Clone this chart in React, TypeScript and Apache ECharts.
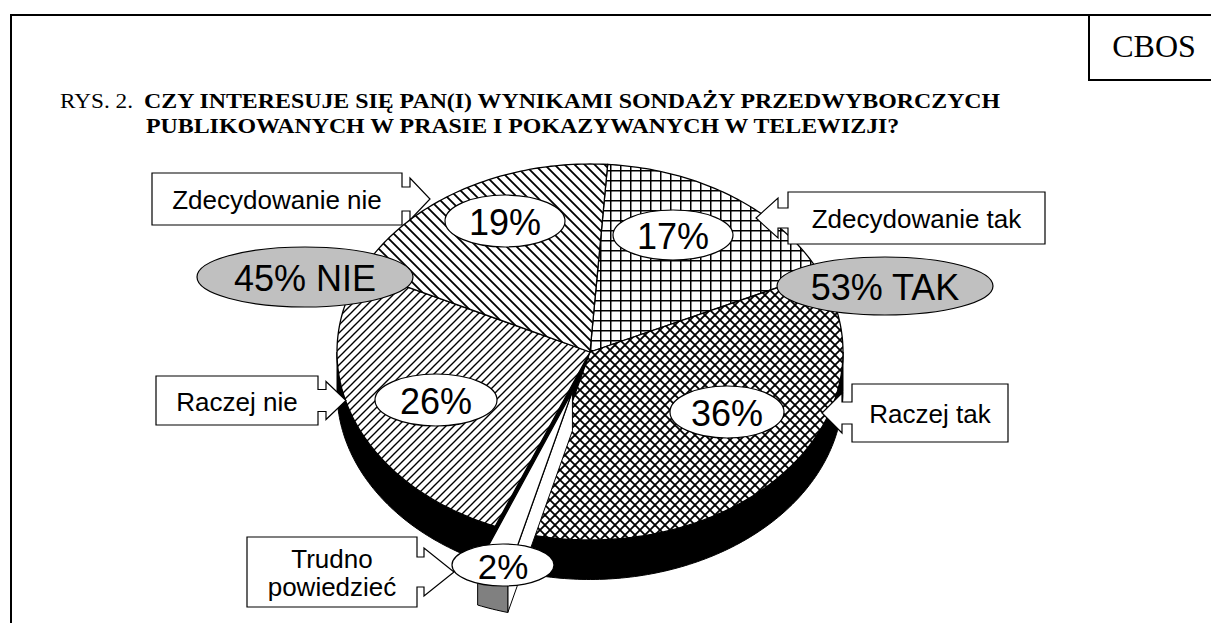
import React, { useEffect, useRef } from 'react';
import * as echarts from 'echarts';

// ---------- data ----------
const CATEGORIES = ['Zdecydowanie tak', 'Raczej tak', 'Trudno powiedzieć', 'Raczej nie', 'Zdecydowanie nie'];
const VALUES = [17, 36, 2, 26, 19];
const BOX_TEXTS = ['Zdecydowanie tak', 'Raczej tak', 'Trudno\npowiedzieć', 'Raczej nie', 'Zdecydowanie nie'];
const TAK_GROUP = [0, 1];
const NIE_GROUP = [3, 4];
const TAK_LABEL = 'TAK';
const NIE_LABEL = 'NIE';
const TITLE_PREFIX = 'RYS. 2.';
const TITLE_LINE1 = 'CZY INTERESUJE SIĘ PAN(I) WYNIKAMI SONDAŻY PRZEDWYBORCZYCH';
const TITLE_LINE2 = 'PUBLIKOWANYCH W PRASIE I POKAZYWANYCH W TELEWIZJI?';
const SOURCE = 'CBOS';

// ---------- layout / style ----------
const START_DEG = 4;
const DEPTH = 0.21;
const EXPLODE_INDEX = 2;
const EXPLODE = 0.22;
const PIE_RECT = { left: 337, top: 164, width: 506, height: 376 };
const SANS = '"Liberation Sans", Arial, sans-serif';
const SERIF = '"Liberation Serif", "Times New Roman", serif';

const CALLOUTS = [
  { x0: 788, y0: 192, x1: 1045, y1: 244, side: 'left', sh: 10, hh: 20, sl: 10, hl: 22 },
  { x0: 852, y0: 384, x1: 1008, y1: 442, side: 'left', sh: 11, hh: 20, sl: 10, hl: 20 },
  { x0: 247, y0: 537, x1: 417, y1: 607, side: 'right', sh: 15, hh: 24, sl: 7, hl: 30 },
  { x0: 156, y0: 376, x1: 318, y1: 425, side: 'right', sh: 11, hh: 19, sl: 8, hl: 20 },
  { x0: 152, y0: 173, x1: 402, y1: 225, side: 'right', sh: 12, hh: 21, sl: 8, hl: 20 },
];
const PCT_BUBBLES = [
  { cx: 673, cy: 235, rx: 60, ry: 25, fs: 36 },
  { cx: 727, cy: 412, rx: 57, ry: 26, fs: 36 },
  { cx: 503, cy: 565, rx: 51, ry: 21, fs: 35 },
  { cx: 436, cy: 400, rx: 61, ry: 26, fs: 36 },
  { cx: 505, cy: 221, rx: 60, ry: 26, fs: 36 },
];
const TAK_BUBBLE = { cx: 885, cy: 286, rx: 108, ry: 29 };
const NIE_BUBBLE = { cx: 305, cy: 277, rx: 108, ry: 30 };

const svgUrl = (w: number, h: number, body: string) =>
  'data:image/svg+xml;charset=utf-8,' +
  encodeURIComponent(
    `<svg xmlns="http://www.w3.org/2000/svg" width="${w}" height="${h}"><rect width="${w}" height="${h}" fill="#fff"/>${body}</svg>`
  );
const pattern = (w: number, h: number, body: string) => ({
  image: svgUrl(w, h, body),
  repeat: 'repeat',
  imageWidth: w,
  imageHeight: h,
});

const FILLS: any[] = [
  pattern(10, 10, '<path d="M0 0.75H10M0.75 0V10" stroke="#000" stroke-width="1.5" fill="none"/>'),
  pattern(10, 10, '<path d="M-1 -1L11 11M-6 4L6 16M4 -6L16 6M-1 11L11 -1M-6 6L6 -6M4 16L16 4" stroke="#000" stroke-width="1.8" fill="none"/>'),
  '#ffffff',
  pattern(8, 8, '<path d="M-1 9L9 -1M-5 5L5 -5M3 13L13 3" stroke="#000" stroke-width="1.4" fill="none"/>'),
  pattern(10, 10, '<path d="M-1 -1L11 11M-6 4L6 16M4 -6L16 6" stroke="#000" stroke-width="1.8" fill="none"/>'),
];

const rad = (d: number) => (d * Math.PI) / 180;

function fitScale(text: string, font: string, target: number) {
  try {
    const ctx = document.createElement('canvas').getContext('2d');
    if (!ctx) return 1;
    ctx.font = font;
    const w = ctx.measureText(text).width;
    return w > 0 ? target / w : 1;
  } catch (e) {
    return 1;
  }
}

function calloutPoints(c: any) {
  const ym = (c.y0 + c.y1) / 2;
  if (c.side === 'right') {
    const s = c.x1 + c.sl;
    return [
      [c.x0, c.y0], [c.x1, c.y0], [c.x1, ym - c.sh], [s, ym - c.sh], [s, ym - c.hh],
      [s + c.hl, ym], [s, ym + c.hh], [s, ym + c.sh], [c.x1, ym + c.sh], [c.x1, c.y1], [c.x0, c.y1],
    ];
  }
  const s = c.x0 - c.sl;
  return [
    [c.x1, c.y0], [c.x0, c.y0], [c.x0, ym - c.sh], [s, ym - c.sh], [s, ym - c.hh],
    [s - c.hl, ym], [s, ym + c.hh], [s, ym + c.sh], [c.x0, ym + c.sh], [c.x0, c.y1], [c.x1, c.y1],
  ];
}

export default function App() {
  const ref = useRef<HTMLDivElement>(null);

  useEffect(() => {
    if (!ref.current) return;
    const chart = echarts.init(ref.current, null, { renderer: 'svg' });

    const total = VALUES.reduce((a, b) => a + b, 0);
    const angles: number[][] = [];
    let acc = START_DEG;
    VALUES.forEach((v) => {
      const a0 = acc;
      acc += (v / total) * 360;
      angles.push([a0, acc]);
    });

    const renderItem = (params: any, api: any) => {
      const i = params.dataIndex;
      const [a0, a1] = angles[i];
      const mid = (a0 + a1) / 2;
      const ex = i === EXPLODE_INDEX ? EXPLODE : 0;
      const ox = ex * Math.sin(rad(mid));
      const oy = ex * Math.cos(rad(mid));
      const pt = (deg: number, r: number, dz: number) =>
        api.coord([ox + r * Math.sin(rad(deg)), oy + r * Math.cos(rad(deg)) - dz]);
      const arc = (from: number, to: number, dz: number) => {
        const pts: number[][] = [];
        const n = Math.max(2, Math.ceil(Math.abs(to - from)));
        for (let k = 0; k <= n; k++) pts.push(pt(from + ((to - from) * k) / n, 1, dz));
        return pts;
      };
      const zb = ex ? 3 : 0;
      const sideColor = ex ? '#808080' : '#000000';
      const faceColor = ex ? '#ffffff' : '#000000';
      const children: any[] = [];
      if (Math.sin(rad(a0)) < 0) {
        children.push({
          type: 'polygon', z2: zb,
          shape: { points: [pt(a0, 0, 0), pt(a0, 1, 0), pt(a0, 1, DEPTH), pt(a0, 0, DEPTH)] },
          style: { fill: faceColor, stroke: '#000', lineWidth: 1 },
        });
      }
      if (Math.sin(rad(a1)) > 0) {
        children.push({
          type: 'polygon', z2: zb,
          shape: { points: [pt(a1, 0, 0), pt(a1, 1, 0), pt(a1, 1, DEPTH), pt(a1, 0, DEPTH)] },
          style: { fill: faceColor, stroke: '#000', lineWidth: 1 },
        });
      }
      [[90, 270], [450, 630]].forEach(([f0, f1]) => {
        const s = Math.max(a0, f0);
        const e = Math.min(a1, f1);
        if (e > s) {
          const top = arc(s, e, 0);
          const bot = arc(e, s, DEPTH);
          children.push({
            type: 'polygon', z2: zb + 1,
            shape: { points: top.concat(bot) },
            style: { fill: sideColor, stroke: '#000', lineWidth: 1 },
          });
        }
      });
      children.push({
        type: 'polygon', z2: zb + 2,
        shape: { points: [pt(a0, 0, 0)].concat(arc(a0, a1, 0)) },
        style: { fill: FILLS[i], stroke: '#000', lineWidth: 1.3 },
      });
      return { type: 'group', children };
    };

    const g: any[] = [];
    // frame
    g.push({ type: 'line', z: 10, shape: { x1: 10, y1: 15, x2: 1215, y2: 15 }, style: { stroke: '#000', lineWidth: 2 } });
    g.push({ type: 'line', z: 10, shape: { x1: 11, y1: 14, x2: 11, y2: 630 }, style: { stroke: '#000', lineWidth: 2 } });
    g.push({ type: 'rect', z: 10, shape: { x: 1089, y: 15, width: 130, height: 65 }, style: { fill: 'none', stroke: '#000', lineWidth: 2 } });
    g.push({
      type: 'text', z: 11, x: 1154, y: 46,
      style: { text: SOURCE, fontSize: 32, fontFamily: SERIF, fill: '#000', align: 'center', verticalAlign: 'middle', textAlign: 'center', textVerticalAlign: 'middle' },
    });
    // title
    const TFS = 22;
    const regFont = `${TFS}px ${SERIF}`;
    const boldFont = `bold ${TFS}px ${SERIF}`;
    g.push({
      type: 'text', z: 11, x: 60, y: 101, scaleX: fitScale(TITLE_PREFIX, regFont, 73),
      style: { text: TITLE_PREFIX, fontSize: TFS, fontFamily: SERIF, fill: '#000', align: 'left', verticalAlign: 'middle', textAlign: 'left', textVerticalAlign: 'middle' },
    });
    g.push({
      type: 'text', z: 11, x: 144, y: 101, scaleX: fitScale(TITLE_LINE1, boldFont, 859),
      style: { text: TITLE_LINE1, fontSize: TFS, fontWeight: 'bold', fontFamily: SERIF, fill: '#000', align: 'left', verticalAlign: 'middle', textAlign: 'left', textVerticalAlign: 'middle' },
    });
    g.push({
      type: 'text', z: 11, x: 146, y: 126, scaleX: fitScale(TITLE_LINE2, boldFont, 756),
      style: { text: TITLE_LINE2, fontSize: TFS, fontWeight: 'bold', fontFamily: SERIF, fill: '#000', align: 'left', verticalAlign: 'middle', textAlign: 'left', textVerticalAlign: 'middle' },
    });
    // callouts
    CALLOUTS.forEach((c, i) => {
      g.push({ type: 'polygon', z: 12, shape: { points: calloutPoints(c) }, style: { fill: '#fff', stroke: '#000', lineWidth: 1.2 } });
      g.push({
        type: 'text', z: 13, x: (c.x0 + c.x1) / 2, y: (c.y0 + c.y1) / 2 + 1,
        style: { text: BOX_TEXTS[i], fontSize: 26, lineHeight: 28, fontFamily: SANS, fill: '#000', align: 'center', verticalAlign: 'middle', textAlign: 'center', textVerticalAlign: 'middle' },
      });
    });
    // percentage bubbles
    PCT_BUBBLES.forEach((b, i) => {
      g.push({ type: 'ellipse', z: 14, shape: { cx: b.cx, cy: b.cy, rx: b.rx, ry: b.ry }, style: { fill: '#fff', stroke: '#000', lineWidth: 1.2 } });
      g.push({
        type: 'text', z: 15, x: b.cx, y: b.cy + 1,
        style: { text: `${VALUES[i]}%`, fontSize: b.fs, fontFamily: SANS, fill: '#000', align: 'center', verticalAlign: 'middle', textAlign: 'center', textVerticalAlign: 'middle' },
      });
    });
    const sumBubble = (b: any, idx: number[], label: string) => {
      const s = idx.reduce((a, k) => a + VALUES[k], 0);
      g.push({ type: 'ellipse', z: 14, shape: { cx: b.cx, cy: b.cy, rx: b.rx, ry: b.ry }, style: { fill: '#c0c0c0', stroke: '#000', lineWidth: 1.2 } });
      g.push({
        type: 'text', z: 15, x: b.cx, y: b.cy + 1,
        style: { text: `${s}% ${label}`, fontSize: 36, fontFamily: SANS, fill: '#000', align: 'center', verticalAlign: 'middle', textAlign: 'center', textVerticalAlign: 'middle' },
      });
    };
    sumBubble(TAK_BUBBLE, TAK_GROUP, TAK_LABEL);
    sumBubble(NIE_BUBBLE, NIE_GROUP, NIE_LABEL);

    chart.setOption({
      animation: false,
      grid: { left: PIE_RECT.left, top: PIE_RECT.top, width: PIE_RECT.width, height: PIE_RECT.height, show: false },
      xAxis: { type: 'value', min: -1, max: 1, show: false },
      yAxis: { type: 'value', min: -1, max: 1, show: false },
      series: [
        {
          type: 'custom',
          name: 'Czy interesuje się',
          coordinateSystem: 'cartesian2d',
          renderItem,
          clip: false,
          silent: true,
          data: VALUES.map((v, i) => ({ name: CATEGORIES[i], value: [0, 0, v] })),
        },
      ],
      graphic: { elements: g },
    });

    return () => chart.dispose();
  }, []);

  return (
    <div
      ref={ref}
      style={{ position: 'absolute', left: 0, top: 0, width: 1211, height: 623, background: '#fff' }}
    />
  );
}
